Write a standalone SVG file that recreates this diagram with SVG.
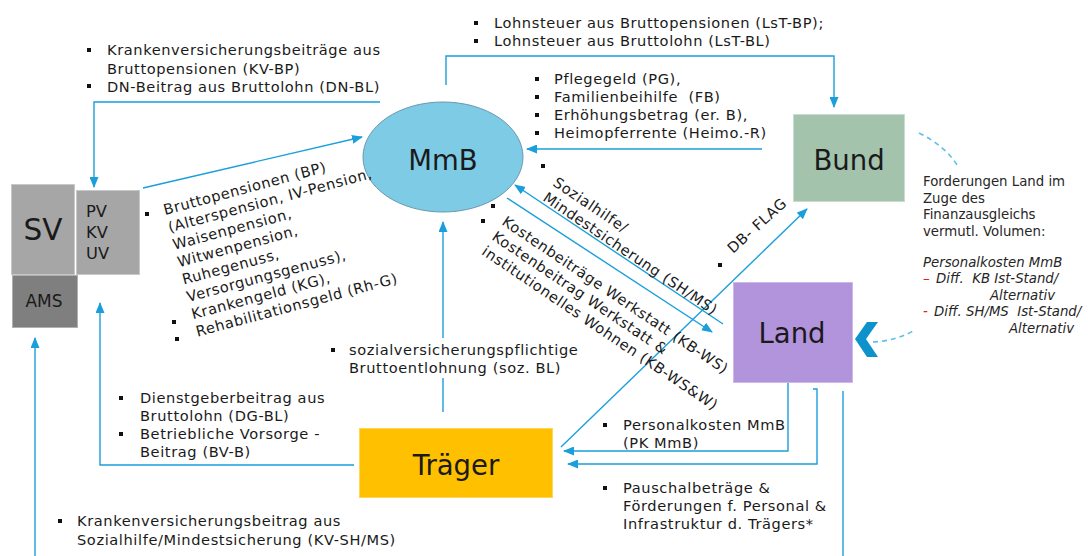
<svg xmlns="http://www.w3.org/2000/svg" width="1088" height="556" viewBox="0 0 1088 556">
<style>
text{font-family:"DejaVu Sans",Verdana,"Liberation Sans",sans-serif;fill:#1a1a1a}
.t{font-size:14.6px;letter-spacing:0.6px}
.s{font-size:13.3px;fill:#262626}
.i{font-style:italic}
.big{font-size:27.5px;text-anchor:middle}
.c{fill:none;stroke:#1a9fdb;stroke-width:1.4}
.d{fill:none;stroke:#5cc0ea;stroke-width:1.6;stroke-dasharray:5 4}
.b{fill:#111}
</style>
<defs>
<marker id="ah" markerUnits="userSpaceOnUse" markerWidth="11" markerHeight="9" refX="10" refY="4.5" orient="auto">
<path d="M0,0 L11,4.5 L0,9 z" fill="#1a9fdb"/>
</marker>
</defs>
<rect width="1088" height="556" fill="#fff"/>

<g id="connectors">
<polyline class="c" points="380,102 94,102 94,187" marker-end="url(#ah)"/>
<line class="c" x1="143" y1="188" x2="362" y2="137" marker-end="url(#ah)"/>
<polyline class="c" points="446,85 446,56 834,56 834,107" marker-end="url(#ah)"/>
<line class="c" x1="762" y1="149" x2="527" y2="149" marker-end="url(#ah)"/>
<line class="c" x1="723" y1="324" x2="515" y2="185" marker-end="url(#ah)"/>
<line class="c" x1="507" y1="198" x2="712" y2="332" marker-end="url(#ah)"/>
<line class="c" x1="561" y1="447" x2="807" y2="209" marker-end="url(#ah)"/>
<line class="c" x1="443" y1="412" x2="443" y2="222" marker-end="url(#ah)"/>
<polyline class="c" points="354,465 100,465 100,303" marker-end="url(#ah)"/>
<polyline class="c" points="788,383 788,451 564,451" marker-end="url(#ah)"/>
<polyline class="c" points="813,389 817,389 817,464 568,464" marker-end="url(#ah)"/>
<line class="c" x1="843" y1="391" x2="843" y2="556"/>
<line class="c" x1="35" y1="556" x2="35" y2="338" marker-end="url(#ah)"/>
<path class="d" d="M919,133 Q946,146 959,168"/>
<path class="d" d="M873,342 Q895,341 913,331"/>
<polygon points="867,322 878,322 866,339 878,357 867,357 855,339" fill="#0e92cc"/>
</g>

<g id="node-sv">
<rect x="11.5" y="184.5" width="63" height="90" fill="#a6a6a6" stroke="#c8c8c8"/>
<text x="43" y="240" style="font-size:29.5px;text-anchor:middle">SV</text>
</g>
<g id="node-pv">
<rect x="76.5" y="190.5" width="63" height="84" fill="#a6a6a6" stroke="#c8c8c8"/>
<text x="86" y="217" style="font-size:16.3px">PV</text>
<text x="86" y="238" style="font-size:16.3px">KV</text>
<text x="86" y="259" style="font-size:16.3px">UV</text>
</g>
<g id="node-ams">
<rect x="12.5" y="275.5" width="65" height="52" fill="#7f7f7f" stroke="#b0b0b0"/>
<text x="44" y="307" style="font-size:17px;text-anchor:middle">AMS</text>
</g>
<g id="node-mmb">
<ellipse cx="443" cy="157" rx="80" ry="55" fill="#7ecbe5" stroke="#6a98b0" stroke-width="1"/>
<text class="big" x="443" y="170">MmB</text>
</g>
<g id="node-bund">
<rect x="793.5" y="114.5" width="111" height="87" fill="#a3c3ad" stroke="#c9dccf"/>
<text class="big" x="849" y="170">Bund</text>
</g>
<g id="node-land">
<rect x="733.5" y="282.5" width="119" height="100" fill="#b294dd" stroke="#cdb8ea"/>
<text class="big" x="792" y="343">Land</text>
</g>
<g id="node-traeger">
<rect x="359.5" y="428.5" width="193" height="69" fill="#ffc000" stroke="#ffd55a"/>
<text class="big" x="456" y="475">Träger</text>
</g>

<g id="labels">
<rect class="b" x="87" y="48" width="4" height="4"/>
<rect class="b" x="87" y="84" width="4" height="4"/>
<text class="t" x="107" y="55">Krankenversicherungsbeiträge aus</text>
<text class="t" x="107" y="74">Bruttopensionen (KV-BP)</text>
<text class="t" x="107" y="92">DN-Beitrag aus Bruttolohn (DN-BL)</text>

<rect class="b" x="474" y="21" width="4" height="4"/>
<rect class="b" x="474" y="39" width="4" height="4"/>
<text class="t" x="494" y="28">Lohnsteuer aus Bruttopensionen (LsT-BP);</text>
<text class="t" x="494" y="46">Lohnsteuer aus Bruttolohn (LsT-BL)</text>

<rect class="b" x="535" y="77" width="4" height="4"/>
<rect class="b" x="535" y="95" width="4" height="4"/>
<rect class="b" x="535" y="113" width="4" height="4"/>
<rect class="b" x="535" y="131" width="4" height="4"/>
<text class="t" x="554" y="84">Pflegegeld (PG),</text>
<text class="t" x="554" y="102" xml:space="preserve">Familienbeihilfe  (FB)</text>
<text class="t" x="554" y="120">Erhöhungsbetrag (er. B),</text>
<text class="t" x="554" y="138">Heimopferrente (Heimo.-R)</text>

<rect class="b" x="145" y="212" width="4" height="4"/>
<rect class="b" x="172" y="320" width="4" height="4"/>
<rect class="b" x="175" y="337" width="4" height="4"/>
<g transform="translate(165,215) rotate(-15)">
<text class="t" x="0" y="0">Bruttopensionen (BP)</text>
<text class="t" x="0" y="18">(Alterspension, IV-Pension,</text>
<text class="t" x="0" y="36">Waisenpension,</text>
<text class="t" x="0" y="54">Witwenpension,</text>
<text class="t" x="0" y="72">Ruhegenuss,</text>
<text class="t" x="0" y="90">Versorgungsgenuss),</text>
<text class="t" x="0" y="108">Krankengeld (KG),</text>
<text class="t" x="0" y="126">Rehabilitationsgeld (Rh-G)</text>
</g>

<rect class="b" x="541" y="164" width="4" height="4"/>
<g transform="translate(552,185) rotate(34)">
<text class="t" x="0" y="0">Sozialhilfe/</text>
<text class="t" x="0" y="18">Mindestsicherung (SH/MS)</text>
</g>

<rect class="b" x="491" y="204" width="4" height="4"/>
<rect class="b" x="481" y="219" width="4" height="4"/>
<g transform="translate(501,224) rotate(34)">
<text class="t" x="0" y="0">Kostenbeiträge Werkstatt (KB-WS)</text>
<text class="t" x="0" y="18">Kostenbeitrag Werkstatt &amp;</text>
<text class="t" x="0" y="36">institutionelles Wohnen (KB-WS&amp;W)</text>
</g>

<rect class="b" x="718" y="263" width="4" height="4"/>
<g transform="translate(733,254) rotate(-42)">
<text class="t" x="0" y="0">DB- FLAG</text>
</g>

<rect x="346" y="338" width="228" height="40" fill="#fff"/>
<rect class="b" x="331" y="348" width="4" height="4"/>
<text class="t" x="349" y="355">sozialversicherungspflichtige</text>
<text class="t" x="349" y="373">Bruttoentlohnung (soz. BL)</text>

<rect class="b" x="119" y="396" width="4" height="4"/>
<rect class="b" x="119" y="432" width="4" height="4"/>
<text class="t" x="140" y="403">Dienstgeberbeitrag aus</text>
<text class="t" x="140" y="421">Bruttolohn (DG-BL)</text>
<text class="t" x="140" y="439">Betriebliche Vorsorge -</text>
<text class="t" x="140" y="457">Beitrag (BV-B)</text>

<rect class="b" x="58" y="519" width="4" height="4"/>
<text class="t" x="77" y="526">Krankenversicherungsbeitrag aus</text>
<text class="t" x="77" y="545">Sozialhilfe/Mindestsicherung (KV-SH/MS)</text>

<rect class="b" x="603" y="423" width="4" height="4"/>
<text class="t" x="623" y="430">Personalkosten MmB</text>
<text class="t" x="623" y="448">(PK MmB)</text>

<rect class="b" x="603" y="486" width="4" height="4"/>
<text class="t" x="623" y="493">Pauschalbeträge &amp;</text>
<text class="t" x="623" y="511">Förderungen f. Personal &amp;</text>
<text class="t" x="623" y="529">Infrastruktur d. Trägers*</text>

<text class="s" x="923" y="186">Forderungen Land im</text>
<text class="s" x="923" y="203">Zuge des</text>
<text class="s" x="923" y="219">Finanzausgleichs</text>
<text class="s" x="923" y="236">vermutl. Volumen:</text>
<text class="s i" x="923" y="267">Personalkosten MmB</text>
<text class="s i" x="923" y="283" style="fill:#e02020">–</text>
<text class="s i" x="936" y="283" xml:space="preserve">Diff.  KB Ist-Stand/</text>
<text class="s i" x="990" y="300">Alternativ</text>
<text class="s i" x="923" y="316" style="fill:#e02020">-</text>
<text class="s i" x="934" y="316" xml:space="preserve">Diff. SH/MS  Ist-Stand/</text>
<text class="s i" x="1009" y="333">Alternativ</text>
</g>
</svg>
